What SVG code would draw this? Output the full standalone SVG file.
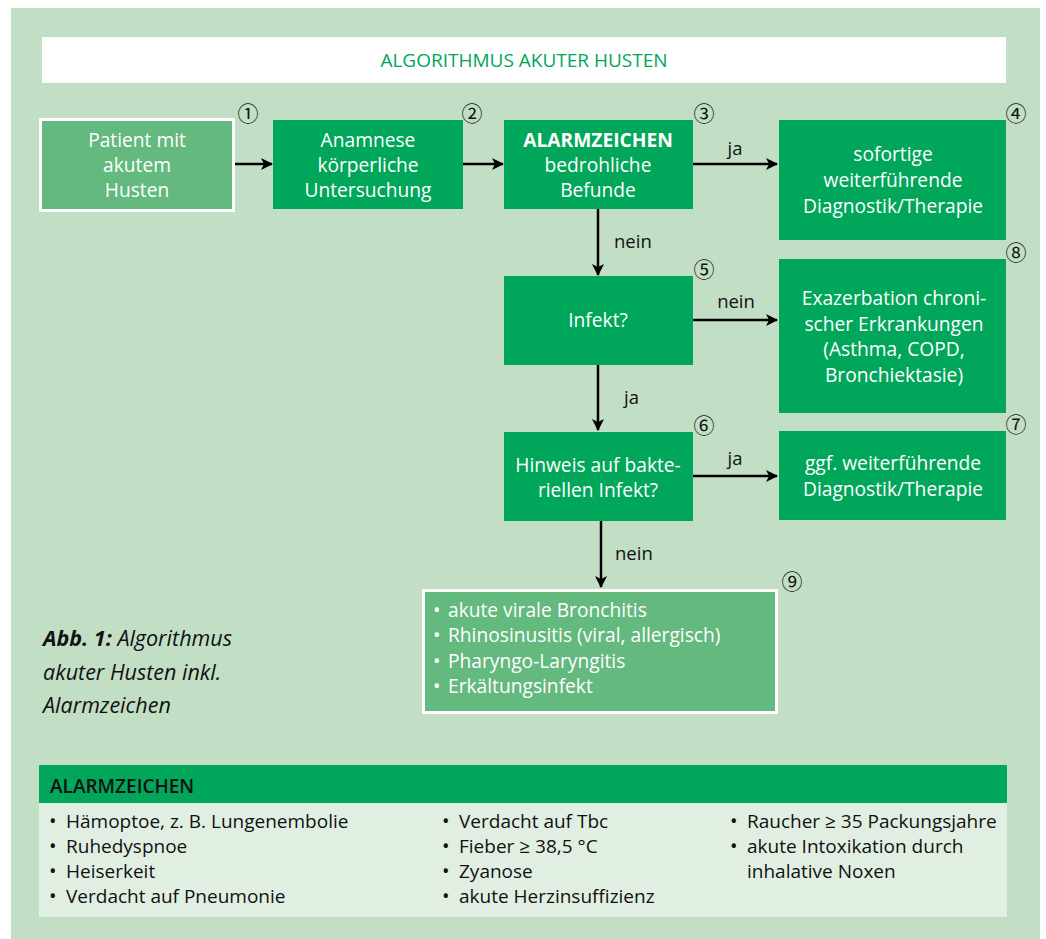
<svg xmlns="http://www.w3.org/2000/svg" width="1046" height="939" viewBox="0 0 1046 939">
<style>
.bg{fill:#c2dfc5}
.dk{fill:#00a65a}
.md{fill:#63b97e;stroke:#ffffff;stroke-width:3}
.nt{font-family:"Open Sans","Liberation Sans",sans-serif;font-size:19.2px;fill:#ffffff;text-anchor:middle}
.bl{font-family:"Open Sans","Liberation Sans",sans-serif;font-size:19.2px;fill:#ffffff}
.lb{font-family:"Open Sans","Liberation Sans",sans-serif;font-size:18.5px;fill:#111111}
.num{font-family:"Noto Sans CJK JP","DejaVu Sans",sans-serif;font-size:21px;fill:#111111;text-anchor:middle}
.cap{font-family:"Open Sans","Liberation Sans",sans-serif;font-size:21.5px;font-style:italic;fill:#111111}
.ln{stroke:#000000;stroke-width:2.5;fill:none}
.pt{font-family:"Open Sans","Liberation Sans",sans-serif;font-size:19px;fill:#111111}
.dw{font-family:"Open Sans","Liberation Sans",sans-serif;font-size:20px;fill:#ffffff}
.dd{font-family:"Open Sans","Liberation Sans",sans-serif;font-size:20px;fill:#111111}
</style>
<defs>
<marker id="ah" viewBox="0 0 12 12" refX="11" refY="6" markerWidth="12" markerHeight="12" markerUnits="userSpaceOnUse" orient="auto">
<path d="M0,0 L12,6 L0,12 L3,6 Z" fill="#000000"/>
</marker>
</defs>
<rect class="bg" x="11" y="8" width="1029" height="931"/>
<g id="title">
<rect x="42" y="37" width="964" height="46" fill="#ffffff"/>
<text x="524" y="67" font-family="Open Sans, Liberation Sans, sans-serif" font-size="19" fill="#00a65a" text-anchor="middle">ALGORITHMUS AKUTER HUSTEN</text>
</g>
<g id="connectors">
<line class="ln" x1="235" y1="164" x2="272" y2="164" marker-end="url(#ah)"/>
<line class="ln" x1="463" y1="164" x2="503" y2="164" marker-end="url(#ah)"/>
<line class="ln" x1="693" y1="164" x2="777" y2="164" marker-end="url(#ah)"/>
<text class="lb" x="735" y="155" text-anchor="middle">ja</text>
<line class="ln" x1="598" y1="209" x2="598" y2="275" marker-end="url(#ah)"/>
<text class="lb" x="614" y="248">nein</text>
<line class="ln" x1="693" y1="320" x2="777" y2="320" marker-end="url(#ah)"/>
<text class="lb" x="736" y="308" text-anchor="middle">nein</text>
<line class="ln" x1="598" y1="364" x2="598" y2="430" marker-end="url(#ah)"/>
<text class="lb" x="624" y="404">ja</text>
<line class="ln" x1="601" y1="520" x2="601" y2="587" marker-end="url(#ah)"/>
<text class="lb" x="615" y="560">nein</text>
<line class="ln" x1="693" y1="476" x2="777" y2="476" marker-end="url(#ah)"/>
<text class="lb" x="735" y="465" text-anchor="middle">ja</text>
</g>
<g id="n1">
<rect class="md" x="40.5" y="119.5" width="193" height="91"/>
<text class="nt" x="137" y="147">Patient mit</text>
<text class="nt" x="137" y="172">akutem</text>
<text class="nt" x="137" y="197">Husten</text>
<text class="num" x="248" y="121">①</text>
</g>
<g id="n2">
<rect class="dk" x="273" y="120" width="190" height="89"/>
<text class="nt" x="368" y="147">Anamnese</text>
<text class="nt" x="368" y="172">körperliche</text>
<text class="nt" x="368" y="197">Untersuchung</text>
<text class="num" x="472" y="121">②</text>
</g>
<g id="n3">
<rect class="dk" x="504" y="120" width="189" height="89"/>
<text class="nt" x="598" y="147" font-weight="bold">ALARMZEICHEN</text>
<text class="nt" x="598" y="172">bedrohliche</text>
<text class="nt" x="598" y="197">Befunde</text>
<text class="num" x="704" y="121">③</text>
</g>
<g id="n4">
<rect class="dk" x="779" y="120" width="227" height="120"/>
<text class="nt" x="893" y="161">sofortige</text>
<text class="nt" x="893" y="187">weiterführende</text>
<text class="nt" x="893" y="213">Diagnostik/Therapie</text>
<text class="num" x="1016" y="121">④</text>
</g>
<g id="n5">
<rect class="dk" x="504" y="276" width="189" height="89"/>
<text class="nt" x="598" y="327">Infekt?</text>
<text class="num" x="704" y="277">⑤</text>
</g>
<g id="n8">
<rect class="dk" x="779" y="259" width="227" height="154"/>
<text class="nt" x="894" y="305">Exazerbation chroni-</text>
<text class="nt" x="894" y="331">scher Erkrankungen</text>
<text class="nt" x="894" y="356">(Asthma, COPD,</text>
<text class="nt" x="894" y="382">Bronchiektasie)</text>
<text class="num" x="1016" y="260">⑧</text>
</g>
<g id="n6">
<rect class="dk" x="504" y="432" width="189" height="89"/>
<text class="nt" x="598" y="472">Hinweis auf bakte-</text>
<text class="nt" x="598" y="497">riellen Infekt?</text>
<text class="num" x="704" y="433">⑥</text>
</g>
<g id="n7">
<rect class="dk" x="779" y="431" width="227" height="89"/>
<text class="nt" x="893" y="470">ggf. weiterführende</text>
<text class="nt" x="893" y="496">Diagnostik/Therapie</text>
<text class="num" x="1016" y="432">⑦</text>
</g>
<g id="n9">
<rect class="md" x="423.5" y="590.5" width="353" height="122"/>
<text class="dw" x="433" y="617">•</text>
<text class="dw" x="433" y="642">•</text>
<text class="dw" x="433" y="668">•</text>
<text class="dw" x="433" y="693">•</text>
<text class="bl" x="448" y="617">akute virale Bronchitis</text>
<text class="bl" x="448" y="642">Rhinosinusitis (viral, allergisch)</text>
<text class="bl" x="448" y="668">Pharyngo-Laryngitis</text>
<text class="bl" x="448" y="693">Erkältungsinfekt</text>
<text class="num" x="792" y="589">⑨</text>
</g>
<g id="caption">
<text class="cap" x="43" y="646"><tspan font-weight="bold">Abb. 1:</tspan> Algorithmus</text>
<text class="cap" x="43" y="680">akuter Husten inkl.</text>
<text class="cap" x="43" y="713">Alarmzeichen</text>
</g>
<g id="alarm">
<rect class="dk" x="39" y="765" width="968" height="38"/>
<rect x="39" y="803" width="968" height="114" fill="#e1efe3"/>
<text x="50" y="793" font-family="Open Sans, Liberation Sans, sans-serif" font-size="19" font-weight="600" fill="#111111">ALARMZEICHEN</text>
<text class="dd" x="49" y="828">•</text>
<text class="dd" x="49" y="853">•</text>
<text class="dd" x="49" y="878">•</text>
<text class="dd" x="49" y="903">•</text>
<text class="pt" x="66" y="828">Hämoptoe, z. B. Lungenembolie</text>
<text class="pt" x="66" y="853">Ruhedyspnoe</text>
<text class="pt" x="66" y="878">Heiserkeit</text>
<text class="pt" x="66" y="903">Verdacht auf Pneumonie</text>
<text class="dd" x="442" y="828">•</text>
<text class="dd" x="442" y="853">•</text>
<text class="dd" x="442" y="878">•</text>
<text class="dd" x="442" y="903">•</text>
<text class="pt" x="459" y="828">Verdacht auf Tbc</text>
<text class="pt" x="459" y="853">Fieber ≥ 38,5 °C</text>
<text class="pt" x="459" y="878">Zyanose</text>
<text class="pt" x="459" y="903">akute Herzinsuffizienz</text>
<text class="dd" x="730" y="828">•</text>
<text class="dd" x="730" y="853">•</text>
<text class="pt" x="747" y="828">Raucher ≥ 35 Packungsjahre</text>
<text class="pt" x="747" y="853">akute Intoxikation durch</text>
<text class="pt" x="747" y="878">inhalative Noxen</text>
</g>
</svg>
